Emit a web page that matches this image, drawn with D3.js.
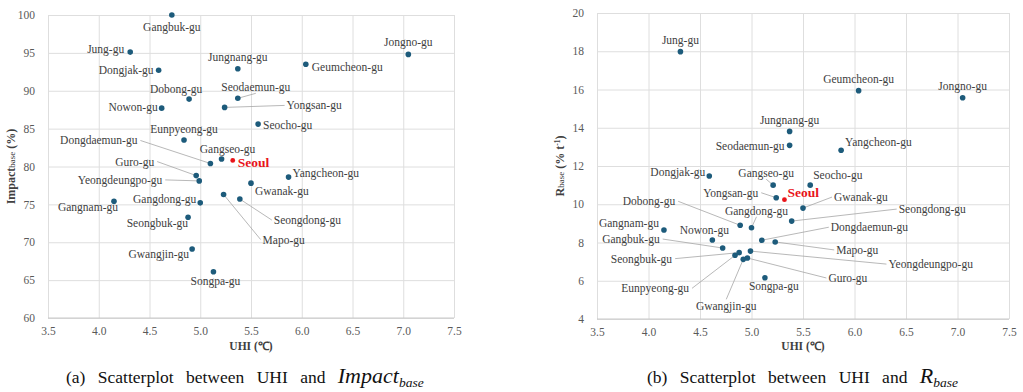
<!DOCTYPE html>
<html lang="en">
<head>
<meta charset="utf-8">
<title>UHI scatterplots</title>
<script src="https://cdn.jsdelivr.net/npm/d3@7"></script>
<style>
  body { margin: 0; background: #fff; }
  svg { display: block; }
</style>
</head>
<body>
<div id="chart"></div>
<script>
// district names, shared UHI (°C), and the two y series
const districts = ['Gangbuk-gu','Jung-gu','Dongjak-gu','Dobong-gu','Nowon-gu','Eunpyeong-gu',
  'Dongdaemun-gu','Gangseo-gu','Jungnang-gu','Seodaemun-gu','Yongsan-gu','Geumcheon-gu',
  'Jongno-gu','Seocho-gu','Yangcheon-gu','Gwanak-gu','Seongdong-gu','Mapo-gu','Guro-gu',
  'Yeongdeungpo-gu','Gangdong-gu','Gangnam-gu','Seongbuk-gu','Gwangjin-gu','Songpa-gu']
const uhi = [4.72, 4.31, 4.59, 4.89, 4.62, 4.84, 5.10, 5.21, 5.37, 5.37, 5.24, 6.04,
  7.05, 5.57, 5.87, 5.50, 5.39, 5.23, 4.96, 4.99, 5.00, 4.15, 4.88, 4.92, 5.13]
const impactBase = [100.0, 95.1, 92.7, 88.9, 87.7, 83.5, 80.4, 81.0, 92.9, 89.0, 87.8, 93.5,
  94.8, 85.6, 78.6, 77.8, 75.7, 76.3, 78.8, 78.1, 75.2, 75.4, 73.3, 69.1, 66.1]
const rBase = [7.71, 17.98, 11.48, 8.90, 8.13, 7.33, 8.12, 11.0, 13.81, 13.08, 10.34, 15.94,
  15.57, 11.0, 12.82, 9.80, 9.12, 8.03, 7.19, 7.55, 8.77, 8.65, 7.47, 7.12, 6.16]
const seoul = { name: 'Seoul', uhi: 5.32, impact: 80.8, r: 10.24 }

const xTicks = [3.5, 4.0, 4.5, 5.0, 5.5, 6.0, 6.5, 7.0, 7.5]
const impactTicks = [60, 65, 70, 75, 80, 85, 90, 95, 100]
const rTicks = [4, 6, 8, 10, 12, 14, 16, 18, 20]

// label placement: [dx, dy, anchor, leader] relative to the dot, same order as districts
const labelsA = [
  [0,16,'middle',0],[-6,1,'end',0],[-5,4,'end',0],[-13,-6,'middle',0],[-4,3,'end',0],
  [0,-7,'middle',0],[-73,-19,'end',1],[6,-6,'middle',0],[0,-8,'middle',0],[18,-7,'middle',1],
  [62,2,'start',1],[6,7,'start',0],[0,-8,'middle',0],[5,5,'start',0],[4,0,'start',0],
  [4,12,'start',0],[34,25,'start',1],[39,49,'start',1],[-42,-10,'end',1],[-37,3,'end',1],
  [-4,0,'end',0],[-26,10,'middle',0],[0,10,'end',0],[-3,9,'end',0],[2,13,'middle',0]
]
const seoulA = [5, 7]
const labelsB = [
  [-63,-5,'end',1],[0,-8,'middle',0],[-4,0,'end',0],[-65,-20,'end',1],[-8,-6,'middle',0],
  [-46,37,'end',1],[69,-9,'start',1],[-7,-8,'middle',1],[0,-7,'middle',0],[-5,5,'end',0],
  [-18,-1,'end',1],[0,-8,'middle',0],[0,-8,'middle',0],[3,-6,'start',0],[4,-4,'start',0],
  [31,-7,'start',1],[107,-8,'start',1],[61,12,'start',1],[81,24,'start',1],[138,17,'start',1],
  [5,-13,'middle',1],[-5,-3,'end',0],[-67,10,'end',1],[-17,51,'middle',1],[9,12,'middle',0]
]
const seoulB = [3, -3]

const W = 1023, H = 392
const dotColor = '#1d5b7b'
const serif = "'Liberation Serif', 'Times New Roman', serif"
const svg = d3.select('#chart').append('svg').attr('width', W).attr('height', H)
  .style('font-family', serif)

function drawPanel(opt) {
  let x = d3.scaleLinear().domain([3.5, 7.5]).range([opt.left, opt.right])
  let y = d3.scaleLinear().domain(opt.yDomain).range([opt.bottom, opt.top])
  let g = svg.append('g')
  let w = opt.right - opt.left, h = opt.bottom - opt.top

  // grid + tick labels
  let xa = g.append('g').attr('transform', 'translate(0,' + opt.bottom + ')')
    .call(d3.axisBottom(x).tickValues(xTicks).tickSize(-h).tickPadding(9).tickFormat(d3.format('.1f')))
  let ya = g.append('g').attr('transform', 'translate(' + opt.left + ',0)')
    .call(d3.axisLeft(y).tickValues(opt.yTicks).tickSize(-w).tickPadding(13))
  for (let a of [xa, ya]) {
    a.attr('font-family', null).attr('font-size', null)
    a.select('.domain').remove()
    a.selectAll('line').attr('stroke', '#dedede').attr('stroke-width', 1)
    a.selectAll('text').attr('fill', '#595959').style('font-size', '11.5px')
      .style('font-family', serif)
  }
  g.append('line').attr('x1', opt.left).attr('x2', opt.right)
    .attr('y1', opt.bottom).attr('y2', opt.bottom).attr('stroke', '#c8c8c8')

  let pts = districts.map((d, i) => ({ name: d, x: x(uhi[i]), y: y(opt.values[i]), lab: opt.labels[i] }))

  // leader lines
  g.selectAll('.leader').data(pts.filter(p => p.lab[3])).enter().append('line')
    .attr('class', 'leader')
    .attr('x1', p => p.x).attr('y1', p => p.y)
    .attr('x2', p => {
      let lx = p.x + p.lab[0]
      return p.lab[2] === 'end' ? lx + 3 : p.lab[2] === 'start' ? lx - 2 : lx
    })
    .attr('y2', p => {
      let ly = p.y + p.lab[1]
      if (p.lab[2] !== 'middle') return ly - 4
      return p.lab[1] > 0 ? ly - 11 : ly + 2
    })
    .attr('stroke', '#a6a6a6').attr('stroke-width', 0.8)

  g.selectAll('.dot').data(pts).enter().append('circle')
    .attr('class', 'dot')
    .attr('cx', p => p.x).attr('cy', p => p.y).attr('r', 2.8)
    .attr('fill', dotColor)

  g.selectAll('.lab').data(pts).enter().append('text')
    .attr('class', 'lab')
    .attr('x', p => p.x + p.lab[0]).attr('y', p => p.y + p.lab[1])
    .attr('text-anchor', p => p.lab[2])
    .attr('fill', '#404040').style('font-size', '11.5px').style('font-family', serif)
    .text(p => p.name)

  // Seoul average
  let sx = x(seoul.uhi), sy = y(opt.seoulValue)
  g.append('circle').attr('cx', sx).attr('cy', sy).attr('r', 2.4).attr('fill', '#e8141a')
  g.append('text').attr('x', sx + opt.seoulLab[0]).attr('y', sy + opt.seoulLab[1])
    .attr('fill', '#e8141a').style('font-size', '13.5px').style('font-weight', 'bold')
    .style('font-family', serif)
    .text(seoul.name)

  // axis titles
  g.append('text').attr('x', (opt.left + opt.right) / 2).attr('y', 350)
    .attr('text-anchor', 'middle').attr('fill', '#404040').style('font-family', serif)
    .style('font-size', '11.5px').style('font-weight', 'bold').text('UHI (℃)')

  let yt = g.append('text')
    .attr('transform', 'translate(' + opt.yTitleX + ',' + (opt.top + opt.bottom) / 2 + ') rotate(-90)')
    .attr('text-anchor', 'middle').attr('fill', '#404040').style('font-family', serif)
    .style('font-size', '12px').style('font-weight', 'bold')
  opt.yTitle(yt)
}

drawPanel({
  left: 48, right: 454, top: 15, bottom: 318,
  yDomain: [60, 100], yTicks: impactTicks, values: impactBase,
  labels: labelsA, seoulValue: seoul.impact, seoulLab: seoulA, yTitleX: 15,
  yTitle: t => {
    t.append('tspan').text('Impact')
    t.append('tspan').style('font-size', '9px').style('font-weight', 'normal').text('base')
    t.append('tspan').text(' (%)')
  }
})

drawPanel({
  left: 597, right: 1009, top: 13, bottom: 319,
  yDomain: [4, 20], yTicks: rTicks, values: rBase,
  labels: labelsB, seoulValue: seoul.r, seoulLab: seoulB, yTitleX: 564,
  yTitle: t => {
    t.append('tspan').text('R')
    t.append('tspan').style('font-size', '9px').style('font-weight', 'normal').text('base')
    t.append('tspan').text(' (% t')
    t.append('tspan').attr('dy', -4).style('font-size', '7.5px').text('-1')
    t.append('tspan').attr('dy', 4).text(')')
  }
})

// captions
function caption(x0, label, main, sub) {
  let t = svg.append('text').attr('x', x0).attr('y', 383).attr('fill', '#111')
    .style('font-family', serif).style('font-size', '17.5px').attr('word-spacing', '8px')
  t.append('tspan').text(label + ' Scatterplot between UHI and ')
  t.append('tspan').style('font-style', 'italic').style('font-size', '22px').text(main)
  t.append('tspan').attr('dy', 4).style('font-style', 'italic').style('font-size', '13.5px').text(sub)
}
caption(66, '(a)', 'Impact', 'base')
caption(647, '(b)', 'R', 'base')
</script>
</body>
</html>
